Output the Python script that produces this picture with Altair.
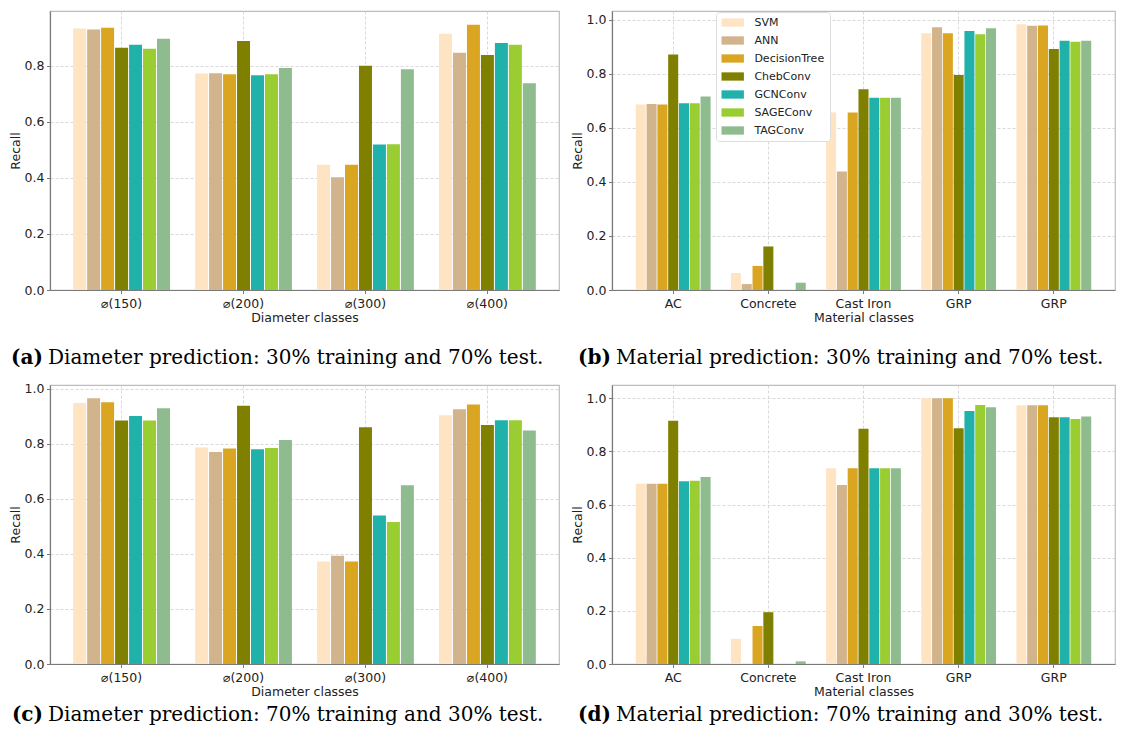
import altair as alt
import pandas as pd

MODELS = ["SVM", "ANN", "DecisionTree", "ChebConv", "GCNConv", "SAGEConv", "TAGConv"]
COLORS = ["#FFE4C4", "#D2B48C", "#DAA520", "#808000", "#20B2AA", "#9ACD32", "#8FBC8F"]

DIAMETER_CLASSES = ["⌀(150)", "⌀(200)", "⌀(300)", "⌀(400)"]
MATERIAL_CLASSES = ["AC", "Concrete", "Cast Iron", "GRP", "GRP"]

# (a) Diameter, 30% training / 70% test
A_VALUES = {
    "SVM":          [0.933, 0.772, 0.447, 0.914],
    "ANN":          [0.929, 0.773, 0.402, 0.846],
    "DecisionTree": [0.935, 0.769, 0.447, 0.946],
    "ChebConv":     [0.864, 0.888, 0.800, 0.838],
    "GCNConv":      [0.875, 0.766, 0.519, 0.881],
    "SAGEConv":     [0.860, 0.769, 0.520, 0.875],
    "TAGConv":      [0.896, 0.792, 0.787, 0.737],
}
# (b) Material, 30% training / 70% test
B_VALUES = {
    "SVM":          [0.686, 0.063, 0.657, 0.950, 0.983],
    "ANN":          [0.688, 0.022, 0.438, 0.972, 0.977],
    "DecisionTree": [0.686, 0.089, 0.657, 0.950, 0.978],
    "ChebConv":     [0.871, 0.161, 0.743, 0.795, 0.891],
    "GCNConv":      [0.691, 0.000, 0.711, 0.958, 0.922],
    "SAGEConv":     [0.691, 0.000, 0.711, 0.946, 0.918],
    "TAGConv":      [0.716, 0.027, 0.711, 0.968, 0.922],
}
# (c) Diameter, 70% training / 30% test
C_VALUES = {
    "SVM":          [0.948, 0.786, 0.372, 0.903],
    "ANN":          [0.965, 0.770, 0.393, 0.925],
    "DecisionTree": [0.950, 0.782, 0.372, 0.942],
    "ChebConv":     [0.884, 0.938, 0.860, 0.868],
    "GCNConv":      [0.900, 0.780, 0.539, 0.885],
    "SAGEConv":     [0.884, 0.784, 0.516, 0.885],
    "TAGConv":      [0.929, 0.813, 0.649, 0.848],
}
# (d) Material, 70% training / 30% test
D_VALUES = {
    "SVM":          [0.678, 0.095, 0.737, 1.000, 0.974],
    "ANN":          [0.678, 0.000, 0.674, 1.000, 0.974],
    "DecisionTree": [0.678, 0.143, 0.737, 1.000, 0.974],
    "ChebConv":     [0.915, 0.195, 0.885, 0.887, 0.929],
    "GCNConv":      [0.688, 0.000, 0.737, 0.952, 0.929],
    "SAGEConv":     [0.690, 0.000, 0.737, 0.975, 0.922],
    "TAGConv":      [0.704, 0.010, 0.737, 0.966, 0.931],
}

Y_TICKS = [0.0, 0.2, 0.4, 0.6, 0.8, 1.0]

CAPTIONS = [
    ("(a)", "Diameter prediction: 30% training and 70% test."),
    ("(b)", "Material prediction: 30% training and 70% test."),
    ("(c)", "Diameter prediction: 70% training and 30% test."),
    ("(d)", "Material prediction: 70% training and 30% test."),
]

W_LEFT, W_RIGHT, H = 509, 503, 279
CAP_FONT = "DejaVu Serif"
CAP_SIZE = 20


def long_df(values):
    rows = []
    for m in MODELS:
        for i, v in enumerate(values[m]):
            rows.append({"cls": i, "model": m, "recall": v})
    return pd.DataFrame(rows)


def panel(values, classes, xtitle, ymax, caption, width, pad_inner, pad_outer,
          tag_x, text_x, cap_y, legend=None):
    df = long_df(values)
    label_expr = "[" + ",".join("'" + c + "'" for c in classes) + "][datum.value]"
    bars = alt.Chart(df).mark_bar().encode(
        x=alt.X(
            "cls:O",
            title=xtitle,
            scale=alt.Scale(paddingInner=pad_inner, paddingOuter=pad_outer),
            axis=alt.Axis(labelExpr=label_expr, labelAngle=0, bandPosition=0.5,
                          grid=True, titlePadding=2),
        ),
        xOffset=alt.XOffset("model:N", sort=MODELS,
                            scale=alt.Scale(paddingInner=0.07, paddingOuter=0)),
        y=alt.Y(
            "recall:Q",
            title="Recall",
            scale=alt.Scale(domain=[0, ymax], nice=False),
            axis=alt.Axis(values=[t for t in Y_TICKS if t <= ymax], format=".1f",
                          grid=True, labelPadding=2.5, titlePadding=2),
        ),
        color=alt.Color("model:N", sort=MODELS,
                        scale=alt.Scale(domain=MODELS, range=COLORS),
                        legend=legend),
    )
    cap_df = pd.DataFrame({"tag": [caption[0]], "text": [caption[1]]})
    tag = alt.Chart(cap_df).mark_text(
        align="right", baseline="middle", font=CAP_FONT, fontSize=CAP_SIZE,
        fontWeight="bold", color="black",
    ).encode(text="tag:N", x=alt.value(tag_x), y=alt.value(cap_y))
    txt = alt.Chart(cap_df).mark_text(
        align="left", baseline="middle", font=CAP_FONT, fontSize=CAP_SIZE,
        color="black",
    ).encode(text="text:N", x=alt.value(text_x), y=alt.value(cap_y))
    return (
        alt.layer(bars, tag, txt)
        .resolve_scale(xOffset="independent")
        .properties(width=width, height=H)
    )


legend_b = alt.Legend(
    title=None,
    orient="none",
    legendX=104,
    legendY=1,
    symbolType="M-1,-0.83H3.48V0.83H-1Z",
    symbolSize=100,
    symbolStrokeWidth=0,
    symbolOpacity=1,
    labelFont="DejaVu Sans",
    labelFontSize=11,
    labelColor="#222222",
    labelOffset=22.4,
    padding=5,
    rowPadding=6.0,
    strokeColor="#dddddd",
    fillColor="white",
    cornerRadius=3,
)

pa = panel(A_VALUES, DIAMETER_CLASSES, "Diameter classes", 0.995, CAPTIONS[0],
           W_LEFT, 0.206, 0.19, -7, -2, 347)
pb = panel(B_VALUES, MATERIAL_CLASSES, "Material classes", 1.032, CAPTIONS[1],
           W_RIGHT, 0.214, 0.25, -1, 4, 347, legend=legend_b)
pc = panel(C_VALUES, DIAMETER_CLASSES, "Diameter classes", 1.013, CAPTIONS[2],
           W_LEFT, 0.206, 0.19, -7, -2, 330)
pd_ = panel(D_VALUES, MATERIAL_CLASSES, "Material classes", 1.05, CAPTIONS[3],
            W_RIGHT, 0.214, 0.25, -1, 4, 330)

chart = (
    alt.concat(pa, pb, pc, pd_, columns=2, spacing={"row": 95, "column": 53},
               bounds="flush")
    .resolve_legend(color="independent")
    .resolve_scale(xOffset="independent")
    .configure(padding={"left": 0, "top": 2, "right": 0, "bottom": 0})
    .configure_view(stroke="#bdbdbd", strokeWidth=1.2)
    .configure_axis(
        labelFont="DejaVu Sans",
        labelFontSize=12.5,
        labelColor="#222222",
        titleFont="DejaVu Sans",
        titleFontSize=12.5,
        titleFontWeight="normal",
        titleColor="#222222",
        domainColor="#7a7a7a",
        domainWidth=1.2,
        tickColor="#7a7a7a",
        tickSize=3.5,
        labelPadding=3.5,
        gridColor="#cfcfcf",
        gridDash=[3, 2],
        gridWidth=0.8,
        zindex=1,
    )
)

chart.save("out.html", embed_options={"renderer": "svg", "actions": False})
